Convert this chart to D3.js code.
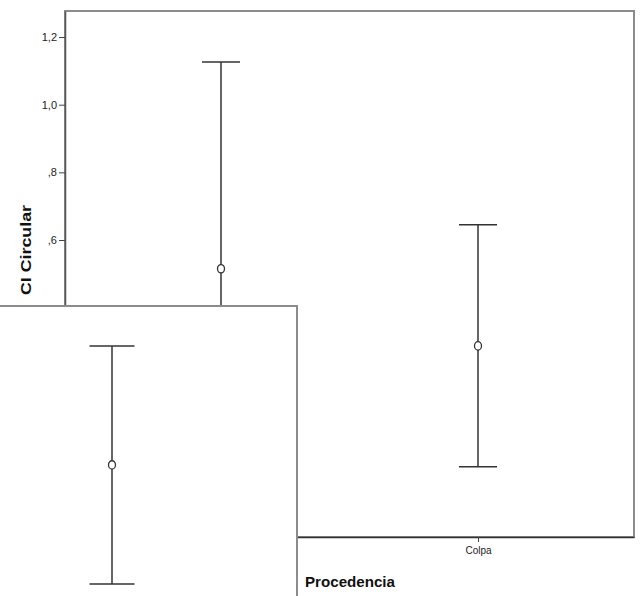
<!DOCTYPE html>
<html><head><meta charset="utf-8">
<script src="https://cdn.jsdelivr.net/npm/d3@7"></script>
<style>body{margin:0;background:#fff}svg{display:block}text{font-family:"Liberation Sans",Arial,sans-serif}</style>
</head><body>
<script>
// Data
const categories = ["Otro", "Colpa"];
const means = [0.515, 0.287];
const lowers = [null, -0.070];
const uppers = [1.126, 0.645];
const yTicks = [0.6, 0.8, 1.0, 1.2];
const tickLabels = [",6", ",8", "1,0", "1,2"];
// overlaid panel (lower-left fragment)
const insetMean = [-0.065];
const insetLower = [-0.417];
const insetUpper = [0.287];

const W = 643, H = 596;
const svg = d3.select("body").append("svg").attr("width", W).attr("height", H);
const L = 65, R = 634, T = 11, B = 537;

const y = d3.scaleLinear().domain([-0.278, 1.277]).range([B, T]);
const x = d3.scalePoint().domain(categories).range([L, R]).padding(0.607);

// frame
svg.append("rect").attr("x", L).attr("y", T).attr("width", R - L).attr("height", B - T)
  .attr("fill", "none").attr("stroke", "#8c8c8c").attr("stroke-width", 2);

// y axis
const ya = svg.append("g").attr("transform", `translate(${L},0)`)
  .call(d3.axisLeft(y).tickValues(yTicks).tickSize(6).tickSizeOuter(0).tickPadding(2)
    .tickFormat((d, i) => tickLabels[i]));
ya.select(".domain").attr("stroke", "#555").attr("stroke-width", 1.5);
ya.selectAll(".tick line").attr("stroke", "#444");
ya.selectAll(".tick text").attr("font-size", 11).attr("fill", "#222");

// x axis
const xa = svg.append("g").attr("transform", `translate(0,${B})`)
  .call(d3.axisBottom(x).tickSize(5).tickPadding(5).tickSizeOuter(0));
xa.select(".domain").attr("stroke", "#333").attr("stroke-width", 1.5);
xa.selectAll(".tick line").attr("stroke", "#444");
xa.selectAll(".tick text").attr("font-size", 10).attr("fill", "#222");

// error bars
const cap = 19;
const data = categories.map((c, i) => ({c, m: means[i], lo: lowers[i], hi: uppers[i]}));
const g = svg.append("g").attr("stroke", "#333").attr("stroke-width", 1.5);
data.forEach(d => {
  const cx = x(d.c);
  const lo = d.lo == null ? y.domain()[0] : d.lo;
  g.append("line").attr("x1", cx).attr("x2", cx).attr("y1", y(d.hi)).attr("y2", y(lo));
  g.append("line").attr("x1", cx - cap).attr("x2", cx + cap).attr("y1", y(d.hi)).attr("y2", y(d.hi));
  if (d.lo != null)
    g.append("line").attr("x1", cx - cap).attr("x2", cx + cap).attr("y1", y(d.lo)).attr("y2", y(d.lo));
  g.append("ellipse").attr("cx", cx).attr("cy", y(d.m)).attr("rx", 3.5).attr("ry", 4.2).attr("fill", "#fff").attr("stroke-width", 1.3);
});

// axis titles
svg.append("text").attr("transform", "translate(31,250) rotate(-90)").attr("text-anchor", "middle")
  .attr("font-size", 15).attr("font-weight", "bold").attr("fill", "#111")
  .attr("textLength", 90).attr("lengthAdjust", "spacingAndGlyphs").text("CI Circular");
svg.append("text").attr("x", 305).attr("y", 587).attr("font-size", 15).attr("font-weight", "bold")
  .attr("fill", "#111").attr("textLength", 90).attr("lengthAdjust", "spacingAndGlyphs").text("Procedencia");

// overlaid fragment box
const inset = svg.append("g");
inset.append("rect").attr("x", -5).attr("y", 306).attr("width", 302).attr("height", 300)
  .attr("fill", "#fff").attr("stroke", "#8c8c8c").attr("stroke-width", 2);
const ix = 112, icap = 22.5;
const ig = inset.append("g").attr("stroke", "#333").attr("stroke-width", 1.5);
insetMean.forEach((m, i) => {
  ig.append("line").attr("x1", ix).attr("x2", ix).attr("y1", y(insetUpper[i])).attr("y2", y(insetLower[i]));
  ig.append("line").attr("x1", ix - icap).attr("x2", ix + icap).attr("y1", y(insetUpper[i])).attr("y2", y(insetUpper[i]));
  ig.append("line").attr("x1", ix - icap).attr("x2", ix + icap).attr("y1", y(insetLower[i])).attr("y2", y(insetLower[i]));
  ig.append("ellipse").attr("cx", ix).attr("cy", y(m)).attr("rx", 3.5).attr("ry", 4.2).attr("fill", "#fff").attr("stroke-width", 1.3);
});
</script>
</body></html>
